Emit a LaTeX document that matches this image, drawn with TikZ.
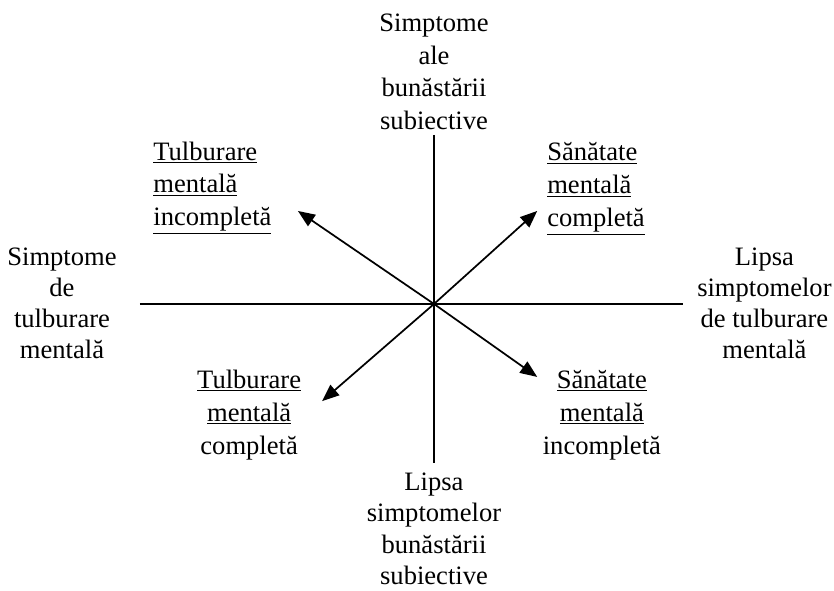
\documentclass[tikz,border=0pt]{standalone}
\usepackage{fontspec}
\setmainfont{Liberation Serif}
\usetikzlibrary{arrows.meta}

\begin{document}
\begin{tikzpicture}[
    lbl/.style={align=center, font=\fontsize{20}{23.5}\selectfont, inner sep=0pt},
    widelbl/.style={align=center, font=\fontsize{20}{24.8}\selectfont, inner sep=0pt},
    quad/.style={align=left, anchor=west, font=\fontsize{20}{24.8}\selectfont, inner sep=0pt},
    axis/.style={line width=1.3pt},
    dirarrow/.style={line width=1.3pt, -{Triangle[length=4.5mm,width=3.6mm]}}]
  \useasboundingbox (-11.48,-7.57) rectangle (10.58,8.04);

  % axes
  \coordinate (o) at (0,0);
  \coordinate (axleft) at (-7.78,0);
  \coordinate (axright) at (6.59,0);
  \coordinate (axtop) at (0,4.47);
  \coordinate (axbottom) at (0,-4.21);
  \draw[axis] (axleft) -- (axright);
  \draw[axis] (axtop) -- (axbottom);

  % axis labels
  \node[widelbl] (wellbeing) at (0,6.14) {Simptome\\ale\\bunăstării\\subiective};
  \node[lbl] (nowellbeing) at (0,-5.95) {Lipsa\\simptomelor\\bunăstării\\subiective};
  \node[lbl] (disorder) at (-9.84,0.02) {Simptome\\de\\tulburare\\mentală};
  \node[lbl] (nodisorder) at (8.74,0.02) {Lipsa\\simptomelor\\de tulburare\\mentală};

  % diagonal arrows
  \coordinate (tipul) at (-3.60,2.46);
  \coordinate (tipur) at (2.73,2.46);
  \coordinate (tipll) at (-2.96,-2.57);
  \coordinate (tiplr) at (2.73,-1.93);
  \draw[dirarrow] (o) -- (tipul);
  \draw[dirarrow] (o) -- (tipur);
  \draw[dirarrow] (o) -- (tipll);
  \draw[dirarrow] (o) -- (tiplr);

  % quadrant labels
  \node[quad] (tmi) at (-7.43,3.07) {\underline{Tulburare}\\\underline{mentală}\\\underline{incompletă}};
  \node[quad] (smc) at (2.99,3.04) {\underline{Sănătate}\\\underline{mentală}\\\underline{completă}};
  \node[widelbl] (tmc) at (-4.89,-2.94) {\underline{Tulburare}\\\underline{mentală}\\completă};
  \node[widelbl] (smi) at (4.44,-2.94) {\underline{Sănătate}\\\underline{mentală}\\incompletă};
\end{tikzpicture}
\end{document}
